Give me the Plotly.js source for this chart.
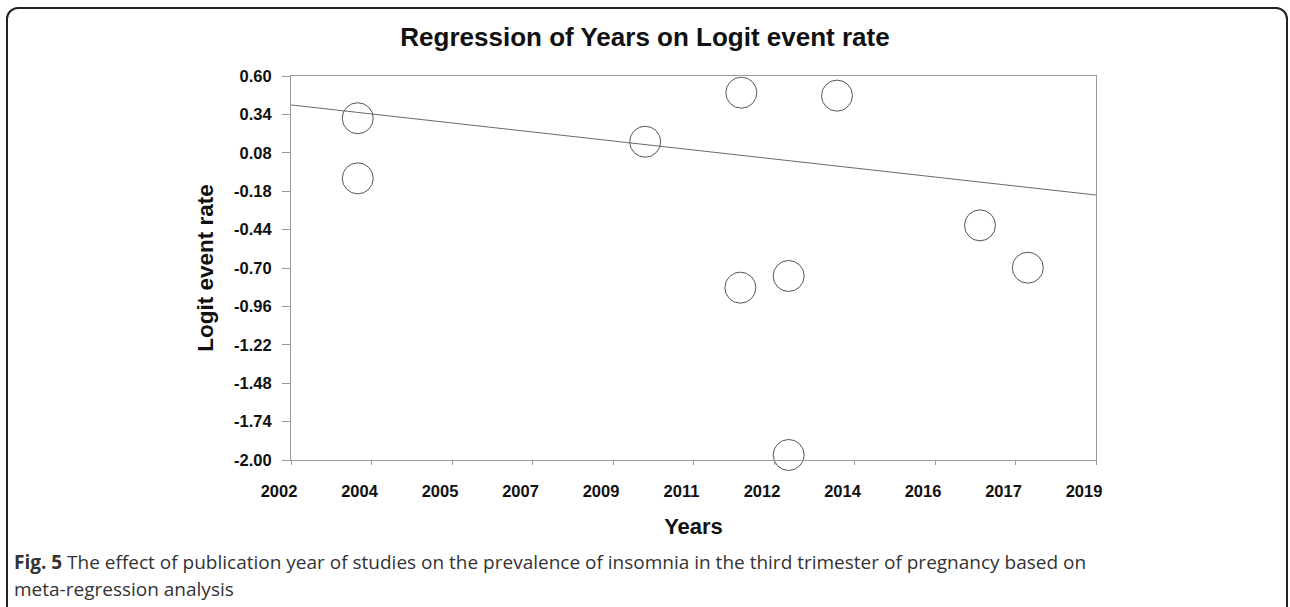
<!DOCTYPE html>
<html>
<head>
<meta charset="utf-8">
<script src="https://cdn.plot.ly/plotly-3.0.1.min.js"></script>
<style>
  html, body { margin: 0; padding: 0; background: #fff; }
  #wrap { position: relative; width: 1290px; height: 607px; overflow: hidden; }
  #frame { position: absolute; left: 6px; top: 7px; width: 1282px; height: 640px;
           border: 2px solid #222; border-radius: 12px; box-sizing: border-box; pointer-events: none; }
  #chart { position: absolute; left: 0; top: 0; width: 1290px; height: 607px; }
</style>
</head>
<body>
<div id="wrap">
  <div id="chart"></div>
  <div id="frame"></div>
</div>
<script>
// Study points: publication year vs logit event rate
const studyYears = [2003.41, 2003.41, 2009.48, 2011.51, 2011.49, 2012.51, 2012.51, 2013.53, 2016.55, 2017.56];
const logitRates = [0.314, -0.093, 0.155, 0.487, -0.833, -0.754, -1.966, 0.467, -0.411, -0.698];

// Regression line end points
const regYears = [2002, 2019];
const regLogit = [0.404, -0.206];

// Axis ticks
const xTickVals = [2002, 2003.7, 2005.4, 2007.1, 2008.8, 2010.5, 2012.2, 2013.9, 2015.6, 2017.3, 2019];
const xTickText = ['2002', '2004', '2005', '2007', '2009', '2011', '2012', '2014', '2016', '2017', '2019'];
const yTickVals = [0.60, 0.34, 0.08, -0.18, -0.44, -0.70, -0.96, -1.22, -1.48, -1.74, -2.00];
const yTickText = ['0.60', '0.34', '0.08', '-0.18', '-0.44', '-0.70', '-0.96', '-1.22', '-1.48', '-1.74', '-2.00'];

const titleText = 'Regression of Years on Logit event rate';
const xTitle = 'Years';
const yTitle = 'Logit event rate';
const captionLine1 = '<b>Fig. 5</b> The effect of publication year of studies on the prevalence of insomnia in the third trimester of pregnancy based on';
const captionLine2 = 'meta-regression analysis';

const ARIAL = 'Liberation Sans, Arial, sans-serif';
const CAP = 'Open Sans, Noto Sans, sans-serif';

const L = 291, R = 1096, T = 76, B = 460;
const W = 1290, H = 607;
const pw = R - L, ph = B - T;
function px2x(p) { return (p - L) / pw; }
function py2y(p) { return (B - p) / ph; }

const traces = [
  {
    x: regYears, y: regLogit, type: 'scatter', mode: 'lines',
    line: { color: '#6a6a6a', width: 1 }, hoverinfo: 'skip', showlegend: false
  },
  {
    x: studyYears, y: logitRates, type: 'scatter', mode: 'markers',
    marker: { symbol: 'circle-open', size: 31, color: '#555', line: { width: 1, color: '#555' } },
    showlegend: false, cliponaxis: false
  }
];

const layout = {
  width: W, height: H,
  margin: { l: L, r: W - R, t: T, b: H - B },
  paper_bgcolor: 'rgba(0,0,0,0)', plot_bgcolor: '#fff',
  font: { family: ARIAL, color: '#111' },
  title: {
    text: '<b>' + titleText + '</b>',
    font: { family: ARIAL, size: 26, color: '#111' },
    xref: 'container', x: 0.5, xanchor: 'center',
    yref: 'container', y: 1 - 37 / H, yanchor: 'middle'
  },
  xaxis: {
    range: [2002, 2019], autorange: false,
    tickmode: 'array', tickvals: xTickVals, ticktext: xTickText,
    ticks: 'outside', ticklen: 4, tickcolor: '#999', tickwidth: 1,
    ticklabelshift: -12, ticklabelstandoff: 12,
    tickfont: { family: ARIAL, size: 16.5, color: '#111', weight: 'bold' },
    showline: true, linecolor: '#9a9a9a', linewidth: 1, mirror: true,
    showgrid: false, zeroline: false,
    title: { text: '<b>' + xTitle + '</b>', font: { family: ARIAL, size: 22, color: '#111' }, standoff: 19 },
    automargin: false
  },
  yaxis: {
    range: [-2.0, 0.6], autorange: false,
    tickmode: 'array', tickvals: yTickVals, ticktext: yTickText,
    ticks: 'outside', ticklen: 8, tickcolor: '#999', tickwidth: 1,
    ticklabelstandoff: 7,
    tickfont: { family: ARIAL, size: 16.5, color: '#111', weight: 'bold' },
    showline: true, linecolor: '#9a9a9a', linewidth: 1, mirror: true,
    showgrid: false, zeroline: false,
    title: { text: '<b>' + yTitle + '</b>', font: { family: ARIAL, size: 22.5, color: '#111' }, standoff: 14 },
    automargin: false
  },
  annotations: [
    {
      text: captionLine1, showarrow: false,
      xref: 'paper', yref: 'paper', x: px2x(12), y: py2y(562),
      xanchor: 'left', yanchor: 'middle',
      font: { family: CAP, size: 19, color: '#333' }
    },
    {
      text: captionLine2, showarrow: false,
      xref: 'paper', yref: 'paper', x: px2x(12), y: py2y(589),
      xanchor: 'left', yanchor: 'middle',
      font: { family: CAP, size: 19, color: '#333' }
    }
  ]
};

Plotly.newPlot('chart', traces, layout, { displayModeBar: false, staticPlot: true });
</script>
</body>
</html>
